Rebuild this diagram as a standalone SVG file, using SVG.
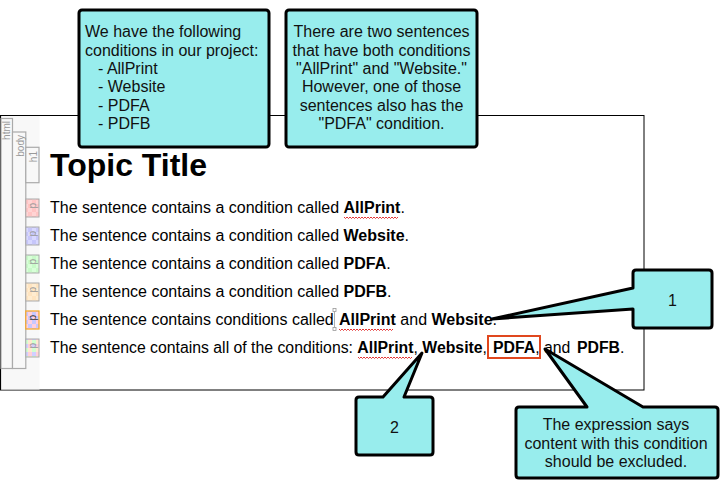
<svg xmlns="http://www.w3.org/2000/svg" width="728" height="488" viewBox="0 0 728 488">
<style>
  text { font-family: "Liberation Sans", Arial, sans-serif; }
  .body { font-size: 16px; fill: #000; }
  .b { font-weight: bold; }
  .note { font-size: 16px; fill: #111; }
  .box { fill: #98eded; stroke: #000; stroke-width: 3; stroke-linejoin: round; }
  .tag { fill: #f8f8f8; stroke: #aaa; stroke-width: 1.2; }
  .tagtxt { font-size: 10px; fill: #999; }
  .wavy { fill: none; stroke: #e02020; stroke-width: 0.9; }
</style>
<defs>
  <pattern id="pk" width="8" height="8" patternUnits="userSpaceOnUse">
    <rect width="8" height="8" fill="#ffd4d4"/><rect width="4" height="4" fill="#ffc4c4"/><rect x="4" y="4" width="4" height="4" fill="#ffc4c4"/>
  </pattern>
  <pattern id="bl" width="8" height="8" patternUnits="userSpaceOnUse">
    <rect width="8" height="8" fill="#d8d8ff"/><rect width="4" height="4" fill="#c6c6fa"/><rect x="4" y="4" width="4" height="4" fill="#c6c6fa"/>
  </pattern>
  <pattern id="gr" width="8" height="8" patternUnits="userSpaceOnUse">
    <rect width="8" height="8" fill="#d8ffd8"/><rect width="4" height="4" fill="#c8fac8"/><rect x="4" y="4" width="4" height="4" fill="#c8fac8"/>
  </pattern>
  <pattern id="or" width="8" height="8" patternUnits="userSpaceOnUse">
    <rect width="8" height="8" fill="#ffecd0"/><rect width="4" height="4" fill="#ffe4c0"/><rect x="4" y="4" width="4" height="4" fill="#ffe4c0"/>
  </pattern>
  <pattern id="bp" width="8" height="8" patternUnits="userSpaceOnUse">
    <rect width="8" height="8" fill="#ffd0e0"/><rect width="4" height="4" fill="#c8c8ff"/><rect x="4" y="4" width="4" height="4" fill="#c8c8ff"/>
  </pattern>
  <pattern id="mx" width="8" height="8" patternUnits="userSpaceOnUse">
    <rect width="4" height="4" fill="#d0d0ff"/><rect x="4" width="4" height="4" fill="#ffd0d8"/><rect y="4" width="4" height="4" fill="#d0ffd0"/><rect x="4" y="4" width="4" height="4" fill="#ffe8d0"/>
  </pattern>
</defs>

<!-- page frame -->
<g id="page">
  <rect x="0.5" y="115.5" width="643.5" height="274.5" fill="#fff" stroke="#000" stroke-width="1"/>
  <rect x="1" y="116" width="38.5" height="273.5" fill="#f8f8f8"/>
  <line x1="0.5" y1="115.5" x2="0.5" y2="390" stroke="#000" stroke-width="1.2"/>
</g>

<!-- structure tags -->
<g id="tags">
  <rect class="tag" x="1" y="118.5" width="11.5" height="250"/>
  <rect class="tag" x="12.5" y="132" width="13.3" height="236.5"/>
  <rect class="tag" x="25.8" y="147.3" width="13.2" height="35.4"/>
  <text class="tagtxt" transform="translate(10,121) rotate(-90)" text-anchor="end">html</text>
  <text class="tagtxt" transform="translate(23.5,135) rotate(-90)" text-anchor="end">body</text>
  <text class="tagtxt" transform="translate(36.5,151) rotate(-90)" text-anchor="end">h1</text>
  <rect x="25.8" y="199" width="13.2" height="18" fill="url(#pk)" stroke="#aaa" stroke-width="1"/>
  <rect x="25.8" y="227" width="13.2" height="18" fill="url(#bl)" stroke="#aaa" stroke-width="1"/>
  <rect x="25.8" y="255" width="13.2" height="18" fill="url(#gr)" stroke="#aaa" stroke-width="1"/>
  <rect x="25.8" y="283" width="13.2" height="18" fill="url(#or)" stroke="#aaa" stroke-width="1"/>
  <rect x="25.8" y="311" width="13.2" height="18" fill="url(#bp)" stroke="#f5a623" stroke-width="1.2"/>
  <rect x="25.8" y="339" width="13.2" height="18" fill="url(#mx)" stroke="#aaa" stroke-width="1"/>
  <text class="tagtxt" transform="translate(35.5,203) rotate(-90)" text-anchor="end">p</text>
  <text class="tagtxt" transform="translate(35.5,231) rotate(-90)" text-anchor="end">p</text>
  <text class="tagtxt" transform="translate(35.5,259) rotate(-90)" text-anchor="end">p</text>
  <text class="tagtxt" transform="translate(35.5,287) rotate(-90)" text-anchor="end">p</text>
  <text class="tagtxt" transform="translate(35.5,315) rotate(-90)" text-anchor="end" style="fill:#333">p</text>
  <text class="tagtxt" transform="translate(35.5,343) rotate(-90)" text-anchor="end">p</text>
</g>

<!-- content -->
<g id="content">
  <text x="50" y="176" style="font-size:32px;font-weight:bold;fill:#000">Topic Title</text>
  <text class="body" x="50" y="213">The sentence contains a condition called <tspan class="b">AllPrint</tspan>.</text>
  <text class="body" x="50" y="241">The sentence contains a condition called <tspan class="b">Website</tspan>.</text>
  <text class="body" x="50" y="269">The sentence contains a condition called <tspan class="b">PDFA</tspan>.</text>
  <text class="body" x="50" y="297">The sentence contains a condition called <tspan class="b">PDFB</tspan>.</text>
  <text class="body" x="50" y="325">The sentence contains conditions called <tspan class="b" x="339">AllPrint</tspan> and <tspan class="b">Website</tspan>.</text>
  <text class="body" x="50" y="353" style="font-size:15.8px">The sentence contains all of the conditions: <tspan class="b">AllPrint</tspan>, <tspan class="b">Website</tspan>, <tspan class="b" x="493">PDFA</tspan>, and <tspan class="b" x="577">PDFB</tspan>.</text>
  <!-- spelling squiggles -->
  <path class="wavy" d="M344,217 l1.5,1.5 l1.5,-1.5 l1.5,1.5 l1.5,-1.5 l1.5,1.5 l1.5,-1.5 l1.5,1.5 l1.5,-1.5 l1.5,1.5 l1.5,-1.5 l1.5,1.5 l1.5,-1.5 l1.5,1.5 l1.5,-1.5 l1.5,1.5 l1.5,-1.5 l1.5,1.5 l1.5,-1.5 l1.5,1.5 l1.5,-1.5 l1.5,1.5 l1.5,-1.5 l1.5,1.5 l1.5,-1.5 l1.5,1.5 l1.5,-1.5 l1.5,1.5 l1.5,-1.5 l1.5,1.5 l1.5,-1.5 l1.5,1.5 l1.5,-1.5 l1.5,1.5 l1.5,-1.5 l1.5,1.5 l1.5,-1.5"/>
  <path class="wavy" d="M339,329 l1.5,1.5 l1.5,-1.5 l1.5,1.5 l1.5,-1.5 l1.5,1.5 l1.5,-1.5 l1.5,1.5 l1.5,-1.5 l1.5,1.5 l1.5,-1.5 l1.5,1.5 l1.5,-1.5 l1.5,1.5 l1.5,-1.5 l1.5,1.5 l1.5,-1.5 l1.5,1.5 l1.5,-1.5 l1.5,1.5 l1.5,-1.5 l1.5,1.5 l1.5,-1.5 l1.5,1.5 l1.5,-1.5 l1.5,1.5 l1.5,-1.5 l1.5,1.5 l1.5,-1.5 l1.5,1.5 l1.5,-1.5 l1.5,1.5 l1.5,-1.5 l1.5,1.5 l1.5,-1.5 l1.5,1.5 l1.5,-1.5"/>
  <path class="wavy" d="M358,357 l1.5,1.5 l1.5,-1.5 l1.5,1.5 l1.5,-1.5 l1.5,1.5 l1.5,-1.5 l1.5,1.5 l1.5,-1.5 l1.5,1.5 l1.5,-1.5 l1.5,1.5 l1.5,-1.5 l1.5,1.5 l1.5,-1.5 l1.5,1.5 l1.5,-1.5 l1.5,1.5 l1.5,-1.5 l1.5,1.5 l1.5,-1.5 l1.5,1.5 l1.5,-1.5 l1.5,1.5 l1.5,-1.5 l1.5,1.5 l1.5,-1.5 l1.5,1.5 l1.5,-1.5 l1.5,1.5 l1.5,-1.5 l1.5,1.5 l1.5,-1.5 l1.5,1.5 l1.5,-1.5 l1.5,1.5 l1.5,-1.5"/>
  <!-- cursor marker -->
  <g fill="#fff" stroke="#999" stroke-width="0.8">
    <line x1="334.5" y1="311" x2="334.5" y2="328"/>
    <rect x="333" y="308.5" width="3" height="3"/>
    <rect x="333" y="327.5" width="3" height="3"/>
  </g>
  <!-- highlight -->
  <rect x="488" y="336" width="52" height="22" fill="none" stroke="#e0471e" stroke-width="2"/>
</g>

<!-- top notes -->
<g id="note-conditions">
  <rect class="box" x="79" y="10" width="190" height="137" rx="3"/>
  <text class="note" x="85" y="37">We have the following</text>
  <text class="note" x="85" y="55.5">conditions in our project:</text>
  <text class="note" x="98" y="74">- AllPrint</text>
  <text class="note" x="98" y="92">- Website</text>
  <text class="note" x="98" y="110.5">- PDFA</text>
  <text class="note" x="98" y="129">- PDFB</text>
</g>
<g id="note-sentences">
  <rect class="box" x="286" y="10" width="191" height="137" rx="3"/>
  <g text-anchor="middle">
    <text class="note" x="381.5" y="37">There are two sentences</text>
    <text class="note" x="381.5" y="55.5">that have both conditions</text>
    <text class="note" x="381.5" y="74">"AllPrint" and "Website."</text>
    <text class="note" x="381.5" y="92">However, one of those</text>
    <text class="note" x="381.5" y="110.5">sentences also has the</text>
    <text class="note" x="381.5" y="129">"PDFA" condition.</text>
  </g>
</g>

<!-- callouts -->
<g id="callout-1">
  <path class="box" d="M636,270 H709 Q712,270 712,273 V325 Q712,328 709,328 H636 Q633,328 633,325 V309 L492,319 L633,288 V273 Q633,270 636,270 Z"/>
  <text class="note" x="672.5" y="306" text-anchor="middle">1</text>
</g>
<g id="callout-2">
  <path class="box" d="M359,397 H383 L422,353 L404,397 H430 Q433,397 433,400 V452 Q433,455 430,455 H359 Q356,455 356,452 V400 Q356,397 359,397 Z"/>
  <text class="note" x="394.5" y="433" text-anchor="middle">2</text>
</g>
<g id="callout-3">
  <path class="box" d="M519,407 H587 L545,349 L643,407 H715 Q718,407 718,410 V475 Q718,478 715,478 H519 Q516,478 516,475 V410 Q516,407 519,407 Z"/>
  <g text-anchor="middle">
    <text class="note" x="616" y="430">The expression says</text>
    <text class="note" x="616" y="448.5">content with this condition</text>
    <text class="note" x="616" y="467">should be excluded.</text>
  </g>
</g>
</svg>
